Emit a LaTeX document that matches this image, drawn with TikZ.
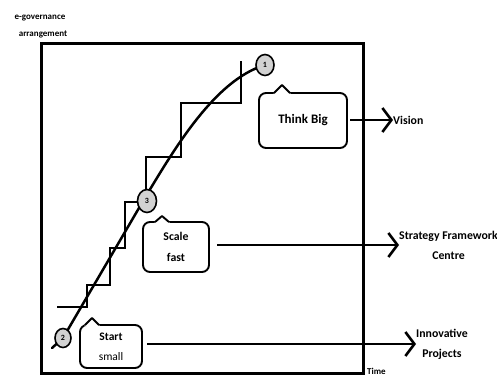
\documentclass[tikz,border=0pt]{standalone}
\usepackage{fontspec}
\setmainfont{Carlito}
\usetikzlibrary{arrows.meta,shapes.geometric}

% small tab on top of a speech bubble: node, x offset, half width, height
\newcommand\bubbletip[4]{%
  \fill[white] ([xshift=#2pt]#1.north west) ++(-0.5,1.6) -- ++(0,-1.6)
     -- ++(#3,-#4) -- ++(#3,#4) -- ++(1,0) -- ++(0,1.6) -- cycle;
  \draw[tipline] ([xshift=#2pt]#1.north west) -- ++(#3,-#4) -- ++(#3,#4);}

\tikzset{
  frame/.style={line width=3pt},
  growth/.style={line width=2.5pt, line join=round, line cap=round},
  stairs/.style={line width=2.5pt, line join=miter},
  bubble/.style={draw, line width=1.9pt, rounded corners=7pt, fill=white,
    outer sep=0pt, inner sep=0pt, align=center, font=\bfseries\fontsize{11.5}{15}\selectfont},
  tipline/.style={line width=1.9pt, line cap=round, line join=round},
  milestone/.style={ellipse, draw, line width=1.6pt, fill=gray!35, inner sep=0pt,
    font=\bfseries\fontsize{8}{8}\selectfont},
  label/.style={inner sep=0pt, align=center, font=\bfseries\fontsize{11.8}{20}\selectfont},
  axislabel/.style={inner sep=0pt, font=\bfseries\fontsize{9}{10}\selectfont},
  arr/.style={line width=2.6pt, -{Straight Barb[length=9pt,width=24pt]}},
}

\begin{document}
\begin{tikzpicture}[x=1pt,y=-1pt]
\useasboundingbox (0,0) rectangle (497,378);

% axes frame
\draw[frame] (41,43) rectangle (363,373);
\node[axislabel] (ylab1) at (40,18) {e-governance};
\node[axislabel] (ylab2) at (43,34) {arrangement};
\node[axislabel, anchor=north west] (xlab) at (367,368) {Time};

% staircase of incremental steps
\draw[stairs] (57,307) -- (87,307) -- (87,285) -- (110,285) -- (110,248)
  -- (125,248) -- (125,202) -- (146,202) -- (146,157) -- (181,157)
  -- (181,103) -- (241,103) -- (241,61);

% growth curve
\draw[growth] (52,348) -- (63,338) -- (146,196)
  .. controls (175,148) and (215,80) .. (265,65);

% milestones
\node[milestone, minimum width=18pt, minimum height=21pt] (m1) at (265,65) {1};
\node[milestone, minimum width=16pt, minimum height=19pt] (m2) at (63,338) {2};
\node[milestone, minimum width=19pt, minimum height=23pt] (m3) at (147,201) {3};

% speech bubbles
\node[bubble, minimum width=88pt, minimum height=55pt, font=\bfseries\fontsize{13}{15}\selectfont] (think) at (303,120.5) {Think Big};
\bubbletip{think}{15}{8}{8}
\node[bubble, minimum width=66pt, minimum height=50pt, font=\bfseries\fontsize{11.8}{21}\selectfont] (scale) at (176,247) {Scale\\fast};
\bubbletip{scale}{12}{7}{6}
\node[bubble, minimum width=62pt, minimum height=43pt, font=\bfseries\fontsize{11.5}{20}\selectfont] (start) at (111,346.5) {Start\\{\mdseries small}};
\bubbletip{start}{5}{7}{7}

% outcomes
\node[label, anchor=west] (vision) at (393,120) {Vision};
\node[label, anchor=west] (strat) at (399,245) {Strategy Framework\\Centre};
\node[label, anchor=west] (innov) at (416,344) {Innovative\\Projects};

\draw[arr] ([xshift=3pt]think.east |- vision.west) -- (vision.west);
\draw[arr] ([xshift=8pt]scale.east |- strat.west) -- (strat.west);
\draw[arr] ([xshift=5pt]start.east |- innov.west) -- (innov.west);
\end{tikzpicture}
\end{document}
